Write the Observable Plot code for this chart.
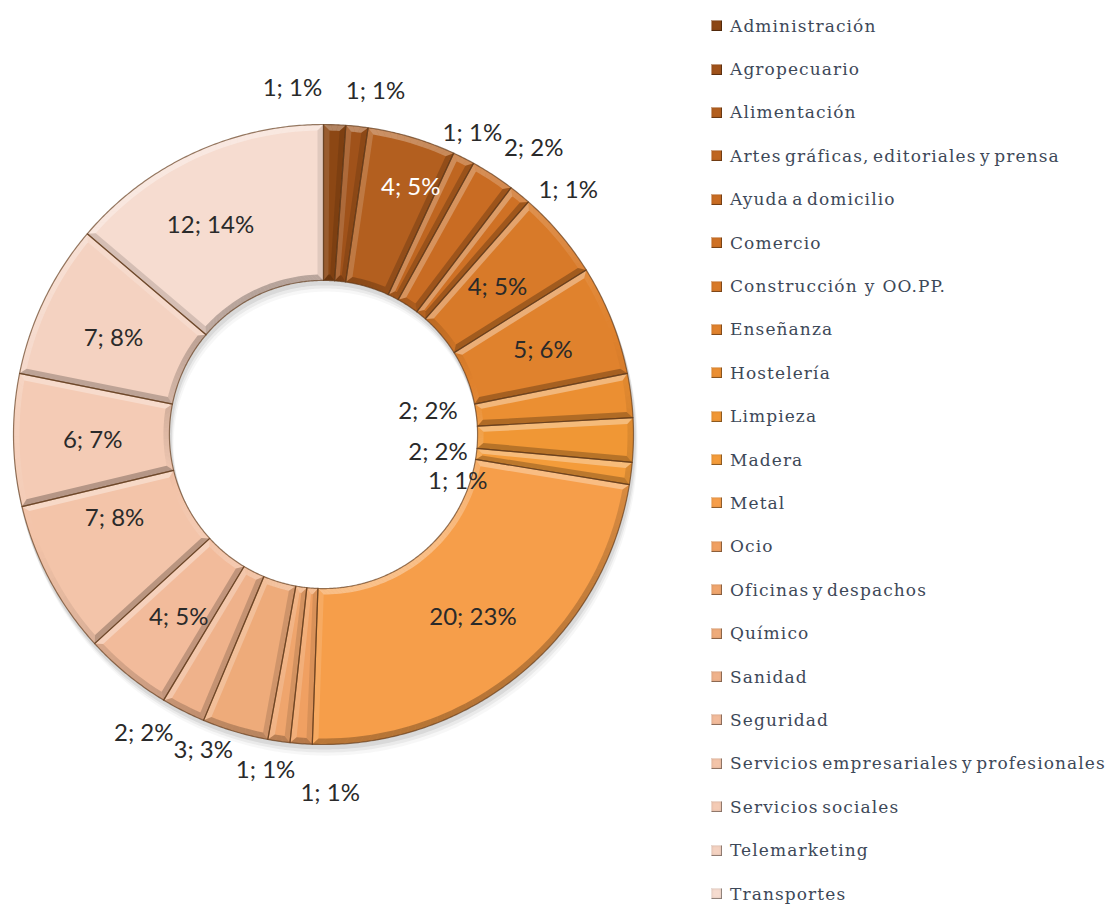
<!DOCTYPE html>
<html><head><meta charset="utf-8">
<script src="https://cdn.jsdelivr.net/npm/d3@7"></script>
<script src="https://cdn.jsdelivr.net/npm/@observablehq/plot@0.6"></script>
<style>
body{margin:0;background:#fff;}
#wrap{position:relative;width:1105px;height:907px;overflow:hidden;background:#fff;}
#chart{position:absolute;left:0;top:0;}
#legend{position:absolute;left:711px;top:4px;font-family:"DejaVu Serif",serif;font-size:17px;color:#3d4858;letter-spacing:1.1px;word-spacing:-3px;}
.item{height:43.4px;display:flex;align-items:center;white-space:pre;}
.sw{width:11px;height:11px;margin-right:8px;flex:none;box-shadow:inset 1px 1px 0 rgba(255,255,255,.45),inset -1px -1px 0 rgba(0,0,0,.35),inset 0 0 3px rgba(0,0,0,.25);}
</style></head><body>
<div id="wrap"><div id="chart"></div><div id="legend"></div></div>
<script>
// ---- data ----
const categories = ["Administración","Agropecuario","Alimentación","Artes gráficas, editoriales y prensa","Ayuda a domicilio","Comercio","Construcción  y  OO.PP.","Enseñanza","Hostelería","Limpieza","Madera","Metal","Ocio","Oficinas y despachos","Químico","Sanidad","Seguridad","Servicios empresariales y profesionales","Servicios sociales","Telemarketing","Transportes"];
const counts   = [1,1,4,1,2,1,4,5,2,2,1,20,1,1,3,2,4,7,6,7,12];
const percents = [1,1,5,1,2,1,5,6,2,2,1,23,1,1,3,2,5,8,7,8,14];
// ---- styles / layout ----
const palette = ["#8c4714","#a0521a","#b35f1f","#bf6621","#c96c23","#cf7125","#d87a29","#e0822d","#eb8f32","#f09735","#f49c3a","#f69e4a","#f0a062","#efa56d","#eeab7a","#efb28b","#f2bb9b","#f3c4a9","#f4cbb5","#f4d2c1","#f6dcd0"];
const labelRadius = [1.12,1.12,0.845,1.084,1.145,1.116,0.735,0.758,0.345,0.374,0.458,0.761,1.158,1.10,1.09,1.126,0.752,0.726,0.745,0.745,0.766];
const labelShift  = [-7.2,2.4,2.9,-0.6,3.2,5.7,0.1,0.8,-5.2,7.9,11.8,0,-5.2,1.5,4.3,4.1,-0.9,6.1,-0.5,-1.3,-3.6];
const whiteLabels = ["Alimentación"];

// ---- geometry derived from data ----
const total = d3.sum(counts);
const TAU = Math.PI * 2, DEG = Math.PI / 180;
const R = 1, r0 = 0.497, bev = 6 / 310;
let acc = 0;
const slices = categories.map((name, i) => {
  const a0 = acc / total * TAU; acc += counts[i];
  const a1 = acc / total * TAU;
  return {name, i, a0, a1};
});
const P = (t, rho) => [rho * Math.sin(t), rho * Math.cos(t)];
function arcPts(a0, a1, rho, step = 0.5 * DEG) {
  const n = Math.max(2, Math.ceil((a1 - a0) / step));
  return d3.range(n + 1).map(k => P(a0 + (a1 - a0) * k / n, rho));
}
const sliceRows = [], facetHi = [], facetLo = [], shadowRows = [];
const L = (() => { const v = [-0.35, 1], m = Math.hypot(...v); return [v[0] / m, v[1] / m]; })();
let fid = 0;
function addFacet(pts, n) {
  const s = n[0] * L[0] + n[1] * L[1];
  const key = "f" + (fid++);
  if (s > 0) pts.forEach(([x, y]) => facetHi.push({key, x, y, op: 0.36 * s}));
  else pts.forEach(([x, y]) => facetLo.push({key, x, y, op: 0.26 * -s}));
}
for (const s of slices) {
  const {a0, a1, name, i} = s;
  const poly = [...arcPts(a0, a1, R), ...arcPts(a0, a1, r0).reverse()];
  poly.forEach(([x, y]) => sliceRows.push({key: i, name, x, y}));
  const Ro = R - bev, Ri = r0 + bev, half = (a1 - a0) / 2;
  const dO = Math.min(bev / Ro, half * 0.85), dI = Math.min(bev / Ri, half * 0.85);
  const n = Math.max(1, Math.ceil((a1 - a0) / (1.5 * DEG)));
  for (let k = 0; k < n; k++) {
    const t0 = a0 + (a1 - a0) * k / n, t1 = a0 + (a1 - a0) * (k + 1) / n, tm = (t0 + t1) / 2;
    const uo0 = a0 + dO + (a1 - a0 - 2 * dO) * k / n, uo1 = a0 + dO + (a1 - a0 - 2 * dO) * (k + 1) / n;
    const ui0 = a0 + dI + (a1 - a0 - 2 * dI) * k / n, ui1 = a0 + dI + (a1 - a0 - 2 * dI) * (k + 1) / n;
    addFacet([P(t0, R), P(t1, R), P(uo1, Ro), P(uo0, Ro)], [Math.sin(tm), Math.cos(tm)]);
    addFacet([P(t0, r0), P(t1, r0), P(ui1, Ri), P(ui0, Ri)], [-Math.sin(tm), -Math.cos(tm)]);
  }
  addFacet([P(a0, r0), P(a0, R), P(a0 + dO, Ro), P(a0 + dI, Ri)], [-Math.cos(a0), Math.sin(a0)]);
  addFacet([P(a1, R), P(a1, r0), P(a1 - dI, Ri), P(a1 - dO, Ro)], [Math.cos(a1), -Math.sin(a1)]);
}
// soft drop shadow of the ring
[[0.012, 0.07], [0.022, 0.05], [0.032, 0.03]].forEach(([dy, op], j) => {
  const ring = [...arcPts(0, TAU, R + 0.004), ...arcPts(0, TAU, r0 - 0.004).reverse()];
  ring.forEach(([x, y]) => shadowRows.push({key: "s" + j, x: x + dy * 0.3, y: y - dy, op}));
});
const labels = slices.map(s => {
  const t = (s.a0 + s.a1) / 2 + labelShift[s.i] * DEG;
  const [x, y] = P(t, labelRadius[s.i]);
  return {name: s.name, x, y, text: `${counts[s.i]}; ${percents[s.i]}%`};
});

const chart = Plot.plot({
  width: 680, height: 907, margin: 0,
  x: {domain: [-1, 1], range: [13, 633], axis: null},
  y: {domain: [-1, 1], range: [744, 124], axis: null},
  color: {domain: categories, range: palette},
  opacity: {type: "identity"},
  style: {background: "transparent", overflow: "visible"},
  marks: [
    Plot.line(shadowRows, {x: "x", y: "y", z: "key", fill: "#000", fillOpacity: "op", stroke: null, curve: "linear-closed"}),
    Plot.line(sliceRows, {x: "x", y: "y", z: "key", fill: "name", stroke: null, curve: "linear-closed"}),
    Plot.line(facetHi, {x: "x", y: "y", z: "key", fill: "#fff", fillOpacity: "op", stroke: null, curve: "linear-closed"}),
    Plot.line(facetLo, {x: "x", y: "y", z: "key", fill: "#000", fillOpacity: "op", stroke: null, curve: "linear-closed"}),
    Plot.line(sliceRows, {x: "x", y: "y", z: "key", fill: null, stroke: "#5e3515", strokeOpacity: 0.65, strokeWidth: 1.2, curve: "linear-closed"}),
    Plot.text(labels.filter(d => !whiteLabels.includes(d.name)), {x: "x", y: "y", text: "text", fill: "#2a2a2a", fontFamily: "Lato, sans-serif", fontSize: 24}),
    Plot.text(labels.filter(d => whiteLabels.includes(d.name)), {x: "x", y: "y", text: "text", fill: "#ffffff", fontFamily: "Lato, sans-serif", fontSize: 24})
  ]
});
document.getElementById("chart").append(chart);

const colorScale = chart.scale("color");
const legend = document.getElementById("legend");
categories.forEach(c => {
  const item = document.createElement("div");
  item.className = "item";
  const sw = document.createElement("span");
  sw.className = "sw";
  sw.style.background = colorScale.apply(c);
  const tx = document.createElement("span");
  tx.textContent = c;
  item.append(sw, tx);
  legend.append(item);
});
</script>
</body></html>
